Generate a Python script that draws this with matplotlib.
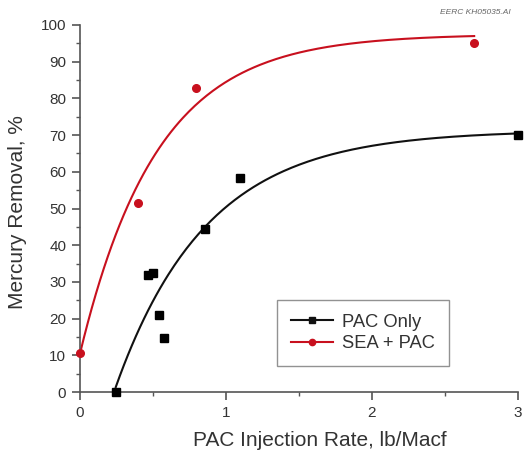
import numpy as np
import matplotlib
matplotlib.use("Agg")
import matplotlib.pyplot as plt
from matplotlib.ticker import MultipleLocator

plt.rcParams['font.family'] = ['Liberation Sans', 'DejaVu Sans']

# Data
pac_x = [0.247, 0.468, 0.498, 0.543, 0.578, 0.856, 1.098, 3.0]
pac_y = [0.0, 32.0, 32.4, 21.0, 14.6, 44.3, 58.2, 70.0]
sea_x = [0.0, 0.395, 0.795, 2.70]
sea_y = [10.5, 51.6, 82.8, 95.2]

# Fitted curve parameters (y = A - B * exp(-k x))
pac_fit = dict(A=71.3, B=103.5, k=1.6, x0=0.245, x1=3.0)
sea_fit = dict(A=97.5, B=87.0, k=1.9, x0=0.0, x1=2.70)

text_c = '#333333'
axis_c = '#555555'
red = '#c8101e'

fig = plt.figure(figsize=(5.24, 4.62), dpi=100)
ax = fig.add_axes([0.1527, 0.1515, 0.8358, 0.7944])

def fit_curve(p):
    xs = np.linspace(p['x0'], p['x1'], 200)
    return xs, p['A'] - p['B'] * np.exp(-p['k'] * xs)

xs, ys = fit_curve(pac_fit)
ax.plot(xs, ys, color='#111111', lw=1.5, clip_on=False)
xs, ys = fit_curve(sea_fit)
ax.plot(xs, ys, color=red, lw=1.5, clip_on=False)

ax.plot(pac_x, pac_y, ls='none', marker='s', ms=5.3, color='black', clip_on=False, zorder=5)
ax.plot(sea_x, sea_y, ls='none', marker='o', ms=5.5, color=red, clip_on=False, zorder=5)

# legend proxies
ax.plot([], [], color='#111111', lw=1.5, marker='s', ms=4.5, label='PAC Only')
ax.plot([], [], color=red, lw=1.5, marker='o', ms=4.5, label='SEA + PAC')
leg = ax.legend(loc='upper left', bbox_to_anchor=(0.450, 0.251), borderaxespad=0,
                frameon=True, fancybox=False, edgecolor='#777777', fontsize=13.2,
                handlelength=2.3, borderpad=0.75, labelspacing=0.25, handletextpad=0.5)
for t in leg.get_texts():
    t.set_color(text_c)
leg.get_frame().set_linewidth(1.0)

ax.set_xlim(0, 3)
ax.set_ylim(0, 100)
ax.xaxis.set_major_locator(MultipleLocator(1))
ax.xaxis.set_minor_locator(MultipleLocator(0.5))
ax.yaxis.set_major_locator(MultipleLocator(10))
ax.yaxis.set_minor_locator(MultipleLocator(5))

for s in ['top', 'right']:
    ax.spines[s].set_visible(False)
for s in ['left', 'bottom']:
    ax.spines[s].set_color(axis_c)
    ax.spines[s].set_linewidth(1.2)

ax.tick_params(which='major', direction='out', length=6, width=1.2, color=axis_c,
               labelsize=11, labelcolor=text_c, pad=4)
ax.tick_params(which='minor', direction='out', length=3, width=1.0, color=axis_c)

ax.set_xlabel('PAC Injection Rate, lb/Macf', fontsize=15, color=text_c)
ax.xaxis.set_label_coords(0.548, -0.105)
ax.set_ylabel('Mercury Removal, %', fontsize=15, color=text_c)
ax.yaxis.set_label_coords(-0.121, 0.49)

fig.text(0.975, 0.972, 'EERC KH05035.AI', ha='right', va='center', fontsize=6,
         style='italic', color='#666666')

fig.savefig('out.png', dpi=100, facecolor='white')
